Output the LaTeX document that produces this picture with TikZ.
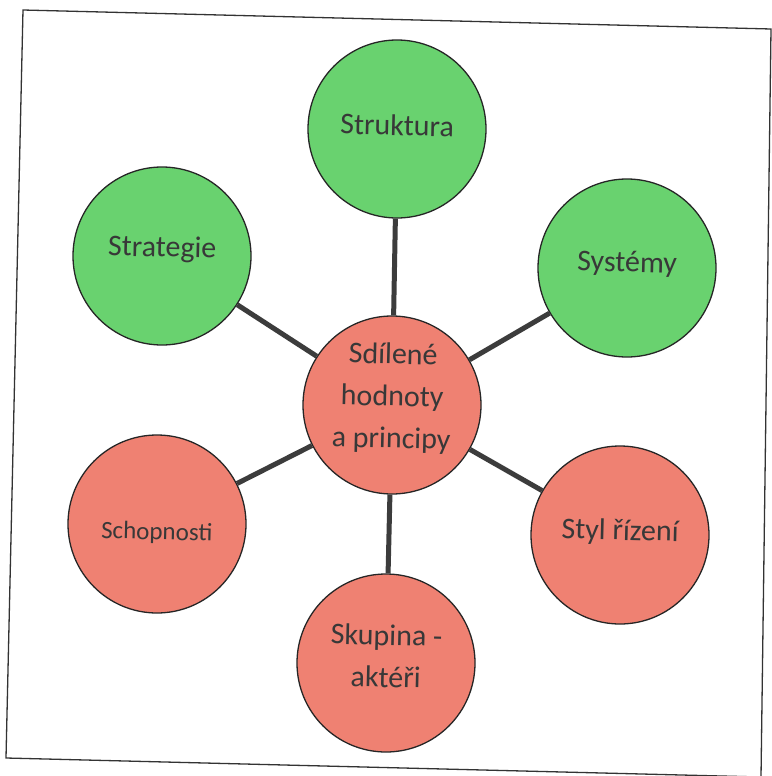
\documentclass[tikz,border=0pt]{standalone}
\usepackage{fontspec}
\setmainfont{Carlito}
\definecolor{bubgreen}{HTML}{69D26F}
\definecolor{bubred}{HTML}{EF8172}
\definecolor{inkgray}{HTML}{383838}
\definecolor{linkgray}{HTML}{3C3C3C}
\begin{document}
\begin{tikzpicture}[x=1pt,y=-1pt,
  bubble/.style={circle, draw=black!85, line width=1.3pt, minimum size=178pt, inner sep=0pt},
  greenbub/.style={bubble, fill=bubgreen},
  redbub/.style={bubble, fill=bubred},
  txt/.style={text=inkgray, align=center, rotate=-1.4, font=\fontsize{30}{42}\selectfont},
  smalltxt/.style={txt, font=\fontsize{25}{35}\selectfont},
  link/.style={line width=5pt, draw=linkgray}]
\useasboundingbox (0,0) rectangle (771,776);
\fill[white] (0,0) rectangle (771,776);
\draw[line width=1.3pt, black!80] (23,10) -- (771,29) -- (761,777) -- (6,758) -- cycle;

\node[redbub, label={[txt, yshift=7pt]center:Sdílené\\hodnoty\\a principy}] (hub) at (392,405) {};
\node[greenbub, label={[txt, yshift=4pt]center:Struktura}] (struktura) at (397,129) {};
\node[greenbub, label={[txt, yshift=7pt]center:Strategie}] (strategie) at (162,256) {};
\node[greenbub, label={[txt, yshift=4pt]center:Systémy}] (systemy) at (627,268) {};
\node[redbub, label={[txt, yshift=3pt]center:Styl řízení}] (styl) at (620,535) {};
\node[redbub, label={[txt, yshift=7pt]center:Skupina -\\aktéři}] (skupina) at (386,663) {};
\node[redbub, label={[smalltxt, yshift=-9pt]center:Schopnosti}] (schopnosti) at (157,524) {};

\foreach \n in {struktura,strategie,systemy,styl,skupina,schopnosti}
  \draw[link] (hub) -- (\n);
\end{tikzpicture}
\end{document}
